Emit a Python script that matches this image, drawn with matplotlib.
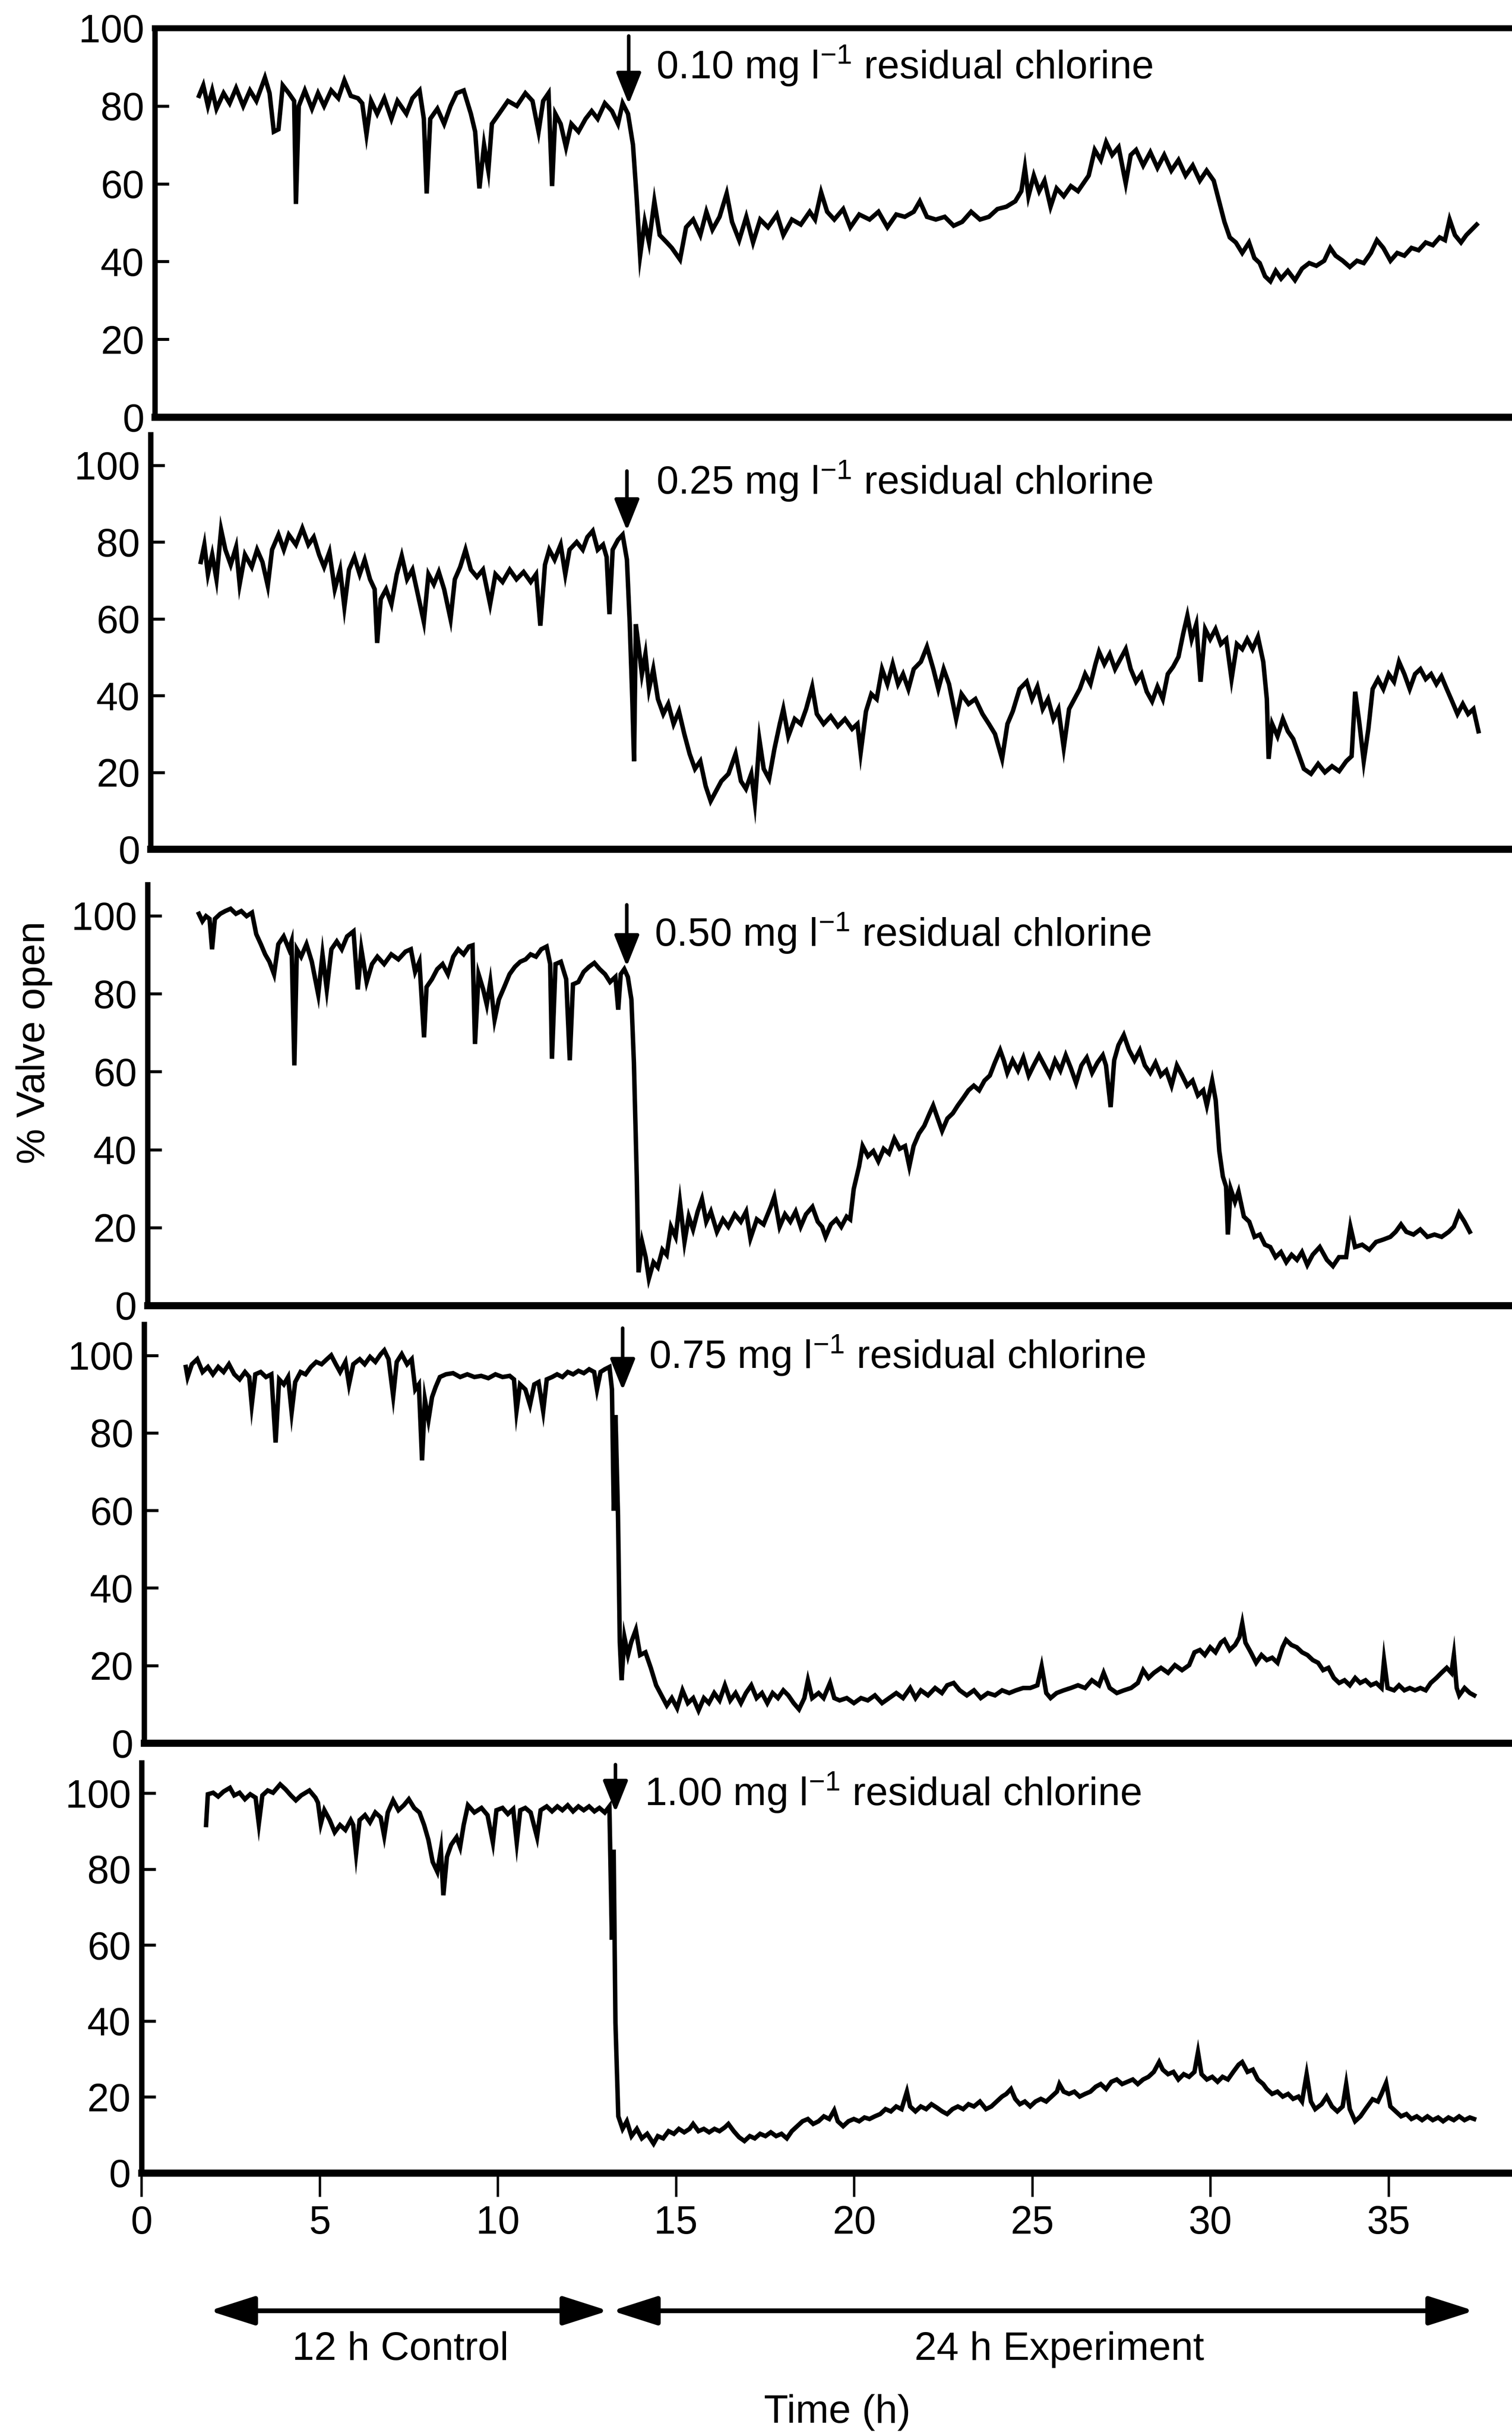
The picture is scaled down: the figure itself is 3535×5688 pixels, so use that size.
import matplotlib.pyplot as plt

plt.rcParams['font.family'] = ['Liberation Sans', 'DejaVu Sans']
plt.rcParams['mathtext.fontset'] = 'custom'
plt.rcParams['mathtext.rm'] = 'Liberation Sans'
plt.rcParams['mathtext.it'] = 'Liberation Sans:italic'

# Data (hours, % valve open)
t1 = [1.24, 1.36, 1.49, 1.61, 1.73, 1.93, 2.10, 2.28, 2.48, 2.67, 2.85, 3.09, 3.22, 3.34, 3.47, 3.59, 3.76, 3.91, 3.96, 4.04,
      4.21, 4.41, 4.58, 4.75, 4.95, 5.15, 5.32, 5.50, 5.70, 5.82, 5.94, 6.07, 6.24, 6.44, 6.64, 6.81, 7.06, 7.23, 7.43, 7.55,
      7.63, 7.73, 7.93, 8.12, 8.30, 8.47, 8.67, 8.87, 8.99, 9.11, 9.24, 9.36, 9.46, 9.66, 9.91, 10.16, 10.40, 10.60, 10.77, 10.90,
      11.05, 11.15, 11.24, 11.39, 11.54, 11.69, 11.89, 12.09, 12.26, 12.43, 12.63, 12.83, 13.00, 13.13, 13.28, 13.42, 13.52, 13.62, 13.75, 13.87,
      14.02, 14.17, 14.37, 14.51, 14.74, 14.91, 15.11, 15.31, 15.48, 15.65, 15.85, 16.05, 16.20, 16.40, 16.60, 16.79, 16.99, 17.21, 17.46, 17.64,
      17.88, 18.13, 18.38, 18.53, 18.70, 18.87, 19.07, 19.32, 19.52, 19.77, 20.06, 20.31, 20.56, 20.81, 21.05, 21.30, 21.47, 21.67, 21.92, 22.17,
      22.42, 22.66, 22.91, 23.16, 23.41, 23.65, 23.90, 24.15, 24.32, 24.42, 24.52, 24.67, 24.82, 24.97, 25.14, 25.31, 25.51, 25.71, 25.91, 26.06,
      26.21, 26.38, 26.55, 26.70, 26.87, 27.05, 27.25, 27.39, 27.54, 27.74, 27.94, 28.14, 28.33, 28.53, 28.73, 28.93, 29.13, 29.33, 29.52, 29.72,
      29.87, 30.02, 30.17, 30.34, 30.52, 30.71, 30.86, 31.01, 31.16, 31.31, 31.46, 31.61, 31.80, 32.00, 32.20, 32.40, 32.60, 32.82, 32.99, 33.14,
      33.34, 33.54, 33.74, 33.93, 34.13, 34.30, 34.48, 34.68, 34.87, 35.07, 35.27, 35.47, 35.67, 35.87, 36.06, 36.21, 36.34, 36.49, 36.66, 36.81,
      36.96, 37.10]
v1 = [82.6, 85.3, 80.0, 84.0, 79.3, 83.3, 80.7, 84.6, 80.0, 84.0, 81.3, 87.3, 83.3, 73.4, 74.0, 85.3, 83.3, 81.3, 54.8, 80.0,
      84.0, 79.3, 83.3, 80.0, 84.0, 82.0, 86.6, 82.6, 82.0, 80.7, 72.7, 81.3, 78.0, 82.0, 76.7, 81.3, 78.0, 82.0, 84.0, 76.7,
      57.5, 76.7, 79.3, 75.4, 80.0, 83.3, 84.0, 78.0, 73.4, 58.8, 70.0, 63.4, 75.4, 78.0, 81.3, 80.0, 83.3, 81.3, 73.4, 81.3,
      83.3, 59.4, 78.0, 75.4, 69.4, 75.4, 73.4, 76.7, 78.7, 76.7, 80.7, 78.7, 75.4, 80.7, 78.0, 70.0, 56.8, 41.5, 50.2, 44.9,
      55.5, 46.8, 44.9, 43.5, 40.5, 48.8, 50.8, 46.8, 52.8, 48.2, 51.5, 57.5, 50.2, 45.5, 51.5, 44.9, 50.8, 48.8, 52.1, 46.8,
      50.8, 49.5, 52.8, 50.8, 57.8, 52.8, 50.8, 53.5, 48.8, 52.1, 50.8, 52.8, 48.8, 52.1, 51.5, 52.8, 55.5, 51.5, 50.8, 51.5,
      49.2, 50.2, 52.8, 50.8, 51.5, 53.5, 54.1, 55.5, 58.1, 64.1, 56.8, 62.1, 58.1, 60.8, 54.1, 58.8, 56.8, 59.4, 58.1, 60.1,
      62.1, 68.7, 66.1, 70.7, 67.4, 69.4, 60.1, 67.4, 68.7, 64.7, 68.1, 64.1, 67.4, 63.4, 66.1, 62.1, 64.7, 60.8, 63.4, 60.8,
      55.5, 50.2, 46.2, 44.9, 42.2, 44.9, 40.9, 39.6, 36.2, 34.9, 37.6, 35.6, 37.6, 35.2, 38.2, 39.6, 38.9, 40.2, 43.5, 41.5,
      40.2, 38.6, 40.2, 39.6, 42.2, 45.5, 43.5, 40.2, 42.2, 41.5, 43.5, 42.9, 44.9, 44.2, 46.2, 45.5, 50.8, 46.8, 44.9, 46.8,
      48.2, 49.5]

t2 = [1.41, 1.51, 1.61, 1.73, 1.85, 1.98, 2.10, 2.25, 2.40, 2.50, 2.65, 2.84, 2.99, 3.14, 3.29, 3.41, 3.59, 3.74, 3.88, 4.08,
      4.26, 4.43, 4.58, 4.73, 4.87, 5.02, 5.17, 5.32, 5.44, 5.57, 5.72, 5.87, 6.01, 6.16, 6.29, 6.36, 6.46, 6.61, 6.76, 6.91,
      7.05, 7.20, 7.35, 7.50, 7.67, 7.80, 7.95, 8.09, 8.24, 8.42, 8.54, 8.69, 8.84, 8.99, 9.16, 9.33, 9.53, 9.68, 9.88, 10.08,
      10.27, 10.47, 10.67, 10.82, 10.94, 11.07, 11.19, 11.34, 11.51, 11.64, 11.76, 11.96, 12.13, 12.26, 12.41, 12.55, 12.70, 12.80, 12.88, 12.97,
      13.12, 13.25, 13.37, 13.45, 13.52, 13.57, 13.62, 13.69, 13.79, 13.89, 13.99, 14.11, 14.24, 14.39, 14.53, 14.68, 14.83, 14.98, 15.13, 15.28,
      15.43, 15.58, 15.72, 15.87, 16.02, 16.22, 16.42, 16.57, 16.71, 16.86, 16.96, 17.09, 17.21, 17.36, 17.51, 17.66, 17.76, 17.90, 18.08, 18.25,
      18.40, 18.57, 18.70, 18.89, 19.09, 19.29, 19.49, 19.69, 19.84, 19.93, 20.08, 20.23, 20.38, 20.53, 20.68, 20.83, 20.98, 21.12, 21.27, 21.42,
      21.62, 21.79, 21.97, 22.11, 22.26, 22.41, 22.61, 22.76, 22.96, 23.15, 23.35, 23.53, 23.70, 23.90, 24.05, 24.20, 24.39, 24.59, 24.74, 24.89,
      25.04, 25.19, 25.34, 25.48, 25.63, 25.78, 25.93, 26.08, 26.23, 26.38, 26.52, 26.62, 26.77, 26.92, 27.07, 27.22, 27.37, 27.51, 27.66, 27.81,
      27.96, 28.11, 28.26, 28.41, 28.55, 28.70, 28.85, 28.98, 29.10, 29.22, 29.35, 29.47, 29.60, 29.74, 29.89, 30.04, 30.19, 30.34, 30.49, 30.64,
      30.78, 30.93, 31.08, 31.23, 31.33, 31.38, 31.48, 31.63, 31.78, 31.92, 32.07, 32.22, 32.37, 32.57, 32.77, 32.96, 33.16, 33.36, 33.56, 33.71,
      33.81, 33.93, 34.05, 34.18, 34.30, 34.45, 34.60, 34.75, 34.90, 35.04, 35.19, 35.34, 35.49, 35.64, 35.79, 35.94, 36.09, 36.23, 36.38, 36.53,
      36.68, 36.83, 36.98, 37.13, 37.27]
v2 = [74.8, 79.3, 71.6, 76.7, 70.3, 83.2, 78.0, 74.1, 78.7, 69.0, 76.7, 73.5, 78.0, 74.8, 68.6, 78.0, 81.9, 78.0, 81.9, 79.3,
      83.6, 79.3, 81.3, 76.7, 73.5, 77.4, 67.7, 72.8, 63.1, 72.8, 76.1, 71.6, 75.4, 70.3, 67.7, 53.7, 65.1, 67.7, 63.8, 71.6,
      76.4, 70.3, 72.8, 66.4, 59.2, 71.6, 69.0, 72.2, 67.7, 59.9, 70.3, 73.5, 78.0, 72.8, 70.9, 72.8, 63.8, 71.6, 69.6, 72.8,
      70.3, 72.2, 69.6, 71.6, 58.2, 74.1, 78.0, 75.4, 79.3, 71.6, 78.0, 80.0, 78.0, 81.3, 82.9, 78.0, 79.3, 76.1, 61.2, 78.0,
      80.6, 81.9, 75.4, 58.6, 39.1, 22.9, 58.6, 53.4, 45.6, 50.8, 41.7, 46.9, 39.1, 35.2, 37.8, 32.6, 35.9, 30.0, 24.8, 20.9,
      22.9, 16.4, 12.5, 15.1, 17.7, 19.6, 24.8, 17.7, 15.7, 19.6, 12.2, 28.4, 20.9, 18.3, 26.1, 32.6, 36.5, 29.4, 33.9, 32.6,
      36.5, 42.3, 35.2, 32.6, 34.6, 32.0, 33.9, 31.3, 32.6, 25.1, 35.9, 40.4, 39.1, 46.9, 43.0, 48.2, 43.0, 45.6, 41.7, 46.9,
      48.8, 52.7, 46.9, 41.7, 46.9, 43.0, 33.9, 40.4, 37.8, 39.1, 35.2, 32.6, 30.0, 23.5, 32.6, 35.9, 41.7, 43.6, 39.1, 42.3,
      36.5, 39.1, 33.9, 36.5, 26.4, 36.5, 39.1, 41.7, 45.6, 43.0, 48.2, 51.4, 48.2, 50.8, 46.9, 49.5, 52.1, 46.9, 43.6, 45.6,
      41.0, 38.5, 42.3, 39.1, 45.6, 47.5, 50.1, 56.0, 60.8, 54.7, 58.6, 43.6, 57.3, 54.7, 57.3, 53.4, 54.7, 44.3, 53.4, 52.1,
      54.7, 52.1, 55.3, 48.8, 39.1, 23.5, 32.6, 29.4, 33.9, 30.7, 28.7, 24.8, 20.9, 19.6, 22.2, 20.0, 21.6, 20.3, 22.9, 24.2,
      41.0, 32.6, 22.9, 31.3, 41.7, 44.3, 41.7, 45.6, 43.6, 48.8, 45.6, 41.7, 45.6, 46.9, 44.3, 45.6, 43.0, 45.0, 41.7, 38.5,
      35.2, 37.8, 35.2, 36.5, 30.7]

t3 = [1.44, 1.54, 1.64, 1.74, 1.81, 1.89, 2.04, 2.18, 2.33, 2.48, 2.63, 2.78, 2.93, 3.05, 3.18, 3.30, 3.42, 3.55, 3.67, 3.82,
      3.97, 4.04, 4.12, 4.19, 4.31, 4.46, 4.61, 4.79, 4.91, 5.03, 5.16, 5.31, 5.45, 5.60, 5.78, 5.90, 6.00, 6.15, 6.30, 6.45,
      6.64, 6.84, 7.04, 7.24, 7.39, 7.51, 7.63, 7.76, 7.83, 7.98, 8.13, 8.28, 8.43, 8.58, 8.72, 8.87, 9.02, 9.12, 9.19, 9.29,
      9.42, 9.52, 9.62, 9.74, 9.86, 10.01, 10.16, 10.31, 10.46, 10.61, 10.75, 10.90, 11.05, 11.20, 11.30, 11.35, 11.45, 11.60, 11.75, 11.85,
      11.94, 12.09, 12.24, 12.39, 12.54, 12.69, 12.84, 12.98, 13.13, 13.21, 13.28, 13.38, 13.48, 13.58, 13.65, 13.73, 13.78, 13.88, 13.98, 14.07,
      14.20, 14.32, 14.45, 14.57, 14.69, 14.82, 14.94, 15.07, 15.19, 15.31, 15.44, 15.56, 15.68, 15.81, 15.98, 16.15, 16.30, 16.48, 16.65, 16.80,
      16.92, 17.10, 17.29, 17.49, 17.59, 17.74, 17.89, 18.04, 18.19, 18.33, 18.48, 18.66, 18.81, 18.93, 19.03, 19.18, 19.33, 19.47, 19.62, 19.72,
      19.82, 19.97, 20.07, 20.22, 20.37, 20.51, 20.66, 20.81, 20.96, 21.11, 21.26, 21.38, 21.50, 21.65, 21.80, 21.95, 22.05, 22.20, 22.30, 22.45,
      22.60, 22.74, 22.89, 23.04, 23.19, 23.34, 23.49, 23.64, 23.78, 23.93, 24.03, 24.13, 24.28, 24.43, 24.58, 24.73, 24.87, 25.02, 25.17, 25.32,
      25.47, 25.62, 25.77, 25.91, 26.06, 26.21, 26.36, 26.51, 26.66, 26.81, 26.90, 27.03, 27.13, 27.25, 27.40, 27.55, 27.70, 27.85, 27.99, 28.14,
      28.29, 28.44, 28.59, 28.74, 28.89, 29.04, 29.18, 29.33, 29.48, 29.63, 29.73, 29.88, 29.98, 30.08, 30.18, 30.27, 30.32, 30.40, 30.52, 30.62,
      30.77, 30.92, 31.07, 31.22, 31.36, 31.51, 31.66, 31.81, 31.96, 32.11, 32.26, 32.40, 32.55, 32.70, 32.90, 33.10, 33.27, 33.44, 33.64, 33.76,
      33.89, 34.09, 34.29, 34.48, 34.68, 34.88, 35.03, 35.18, 35.33, 35.53, 35.72, 35.92, 36.12, 36.32, 36.52, 36.66, 36.81, 36.96, 37.11]
v3 = [100.5, 98.6, 99.9, 99.2, 91.4, 99.2, 100.5, 101.2, 101.8, 100.5, 101.2, 99.9, 100.8, 95.3, 92.7, 90.1, 88.2, 85.0, 92.7, 94.7,
      91.4, 93.4, 61.6, 91.4, 89.5, 92.7, 88.2, 79.8, 90.1, 81.1, 91.4, 93.4, 91.4, 94.7, 96.0, 81.1, 91.4, 83.0, 87.6, 89.5,
      87.6, 90.1, 88.8, 90.8, 91.4, 85.6, 88.2, 68.8, 81.7, 83.7, 86.3, 87.6, 85.0, 89.5, 91.4, 90.1, 92.1, 92.4, 67.1, 85.0,
      81.1, 77.2, 83.0, 73.3, 78.5, 81.7, 85.0, 86.9, 88.2, 88.8, 90.1, 89.5, 91.4, 92.1, 87.6, 63.3, 87.6, 88.2, 83.7, 62.9,
      82.4, 83.0, 85.6, 86.9, 87.9, 86.3, 85.0, 83.0, 84.3, 75.9, 85.0, 86.3, 84.3, 78.5, 62.3, 33.1, 8.5, 16.3, 12.4, 6.9,
      11.1, 9.8, 14.3, 13.0, 20.2, 17.6, 26.6, 16.3, 22.8, 19.5, 24.1, 27.3, 21.5, 24.1, 18.9, 22.1, 20.2, 23.4, 21.5, 24.1,
      17.2, 22.1, 20.8, 25.3, 27.9, 20.2, 23.4, 21.5, 24.1, 20.2, 23.4, 25.3, 21.5, 20.2, 17.6, 20.8, 22.1, 20.2, 22.8, 22.1,
      29.9, 35.7, 40.9, 38.3, 39.6, 37.0, 40.2, 39.0, 42.8, 40.2, 40.9, 35.7, 40.9, 44.1, 46.1, 49.3, 51.3, 47.4, 44.8, 48.0,
      49.3, 51.3, 53.2, 55.2, 56.4, 55.2, 57.7, 59.0, 62.3, 65.5, 62.9, 59.7, 62.9, 60.3, 63.6, 59.0, 61.6, 64.2, 61.6, 59.0,
      62.9, 60.3, 64.2, 61.0, 57.1, 61.6, 63.6, 59.7, 62.3, 64.2, 61.6, 50.9, 62.9, 66.8, 69.4, 65.5, 62.9, 65.5, 61.6, 59.7,
      62.3, 59.0, 60.3, 56.4, 61.6, 59.0, 56.4, 57.7, 53.9, 55.2, 51.3, 57.7, 52.6, 39.6, 33.1, 30.5, 18.2, 29.9, 26.6, 29.2,
      22.8, 21.5, 17.6, 18.2, 15.6, 15.0, 12.4, 13.7, 11.1, 13.0, 11.7, 13.7, 10.4, 13.0, 15.0, 11.7, 10.1, 12.4, 12.4, 20.2,
      15.0, 15.6, 14.3, 16.3, 16.9, 17.6, 18.9, 20.8, 18.9, 18.2, 19.5, 17.6, 18.2, 17.6, 18.9, 20.2, 23.7, 21.5, 18.9]

t4 = [1.17, 1.22, 1.34, 1.49, 1.64, 1.79, 1.93, 2.08, 2.23, 2.38, 2.53, 2.68, 2.83, 2.95, 3.02, 3.12, 3.27, 3.42, 3.57, 3.69,
      3.79, 3.92, 4.04, 4.14, 4.24, 4.39, 4.53, 4.68, 4.83, 4.98, 5.13, 5.25, 5.38, 5.50, 5.65, 5.75, 5.87, 6.05, 6.19, 6.34,
      6.49, 6.64, 6.74, 6.86, 6.99, 7.09, 7.23, 7.38, 7.51, 7.61, 7.71, 7.80, 7.88, 7.98, 8.08, 8.18, 8.30, 8.47, 8.67, 8.87,
      9.07, 9.27, 9.46, 9.66, 9.86, 10.06, 10.26, 10.38, 10.45, 10.55, 10.70, 10.83, 10.95, 11.07, 11.20, 11.30, 11.45, 11.59, 11.74, 11.89,
      12.04, 12.19, 12.34, 12.49, 12.63, 12.71, 12.81, 12.93, 13.06, 13.13, 13.18, 13.23, 13.30, 13.35, 13.40, 13.48, 13.58, 13.67, 13.80, 13.92,
      14.07, 14.22, 14.37, 14.52, 14.67, 14.81, 14.96, 15.11, 15.26, 15.41, 15.56, 15.71, 15.85, 16.00, 16.15, 16.30, 16.45, 16.60, 16.75, 16.89,
      17.04, 17.19, 17.34, 17.49, 17.64, 17.79, 17.94, 18.08, 18.23, 18.38, 18.53, 18.63, 18.75, 18.93, 19.07, 19.25, 19.37, 19.52, 19.72, 19.92,
      20.12, 20.31, 20.51, 20.71, 20.91, 21.11, 21.30, 21.50, 21.65, 21.80, 22.00, 22.20, 22.39, 22.54, 22.72, 22.89, 23.09, 23.29, 23.48, 23.68,
      23.88, 24.08, 24.28, 24.47, 24.67, 24.87, 25.07, 25.19, 25.32, 25.44, 25.61, 25.81, 26.01, 26.21, 26.41, 26.60, 26.80, 26.93, 27.10, 27.30,
      27.50, 27.70, 27.89, 28.04, 28.19, 28.34, 28.54, 28.74, 28.93, 29.13, 29.33, 29.48, 29.63, 29.77, 29.92, 30.07, 30.22, 30.32, 30.47, 30.62,
      30.74, 30.82, 30.91, 31.06, 31.21, 31.36, 31.51, 31.66, 31.81, 31.95, 32.05, 32.20, 32.35, 32.50, 32.65, 32.80, 32.95, 33.09, 33.24, 33.39,
      33.54, 33.69, 33.84, 33.99, 34.13, 34.28, 34.43, 34.58, 34.73, 34.80, 34.90, 35.08, 35.22, 35.37, 35.52, 35.67, 35.82, 35.97, 36.11, 36.27,
      36.41, 36.56, 36.69, 36.76, 36.84, 36.91, 37.06, 37.21, 37.33]
v4 = [97.0, 94.4, 97.7, 99.0, 95.7, 97.0, 95.1, 97.0, 95.7, 97.7, 95.1, 93.8, 95.7, 94.4, 87.2, 95.1, 95.7, 94.4, 95.1, 77.5,
      93.8, 92.5, 94.4, 85.3, 93.1, 95.7, 95.1, 97.0, 98.3, 97.7, 99.0, 100.0, 97.7, 95.7, 98.3, 92.5, 97.7, 99.0, 97.7, 99.6,
      98.3, 100.3, 101.3, 99.0, 89.5, 98.3, 100.3, 97.7, 99.0, 91.2, 92.5, 72.9, 88.6, 83.3, 89.2, 91.8, 94.4, 95.1, 95.4, 94.4,
      95.1, 94.4, 94.7, 94.1, 95.1, 94.4, 94.7, 93.8, 85.6, 92.5, 91.2, 87.2, 92.5, 93.1, 85.6, 93.8, 94.4, 95.1, 94.4, 95.7,
      95.1, 96.0, 95.4, 96.4, 95.7, 91.2, 95.7, 96.4, 97.0, 91.2, 59.9, 84.6, 58.6, 26.0, 16.2, 27.3, 22.7, 26.0, 29.2, 22.7,
      23.4, 19.4, 14.9, 12.3, 9.7, 11.6, 9.0, 13.6, 10.3, 11.6, 8.4, 11.6, 10.3, 12.9, 11.0, 14.9, 11.0, 12.9, 10.3, 12.9,
      14.9, 11.6, 12.9, 10.3, 12.9, 11.6, 13.6, 12.3, 10.3, 8.7, 11.6, 16.2, 11.6, 12.9, 11.6, 15.5, 11.6, 11.0, 11.6, 10.3,
      11.6, 11.0, 12.3, 10.3, 11.6, 12.9, 11.6, 14.2, 11.6, 13.6, 12.3, 14.2, 12.9, 14.9, 15.5, 13.6, 12.3, 13.6, 11.6, 12.9,
      12.3, 13.6, 12.9, 13.6, 14.2, 14.2, 14.9, 19.8, 12.9, 11.6, 12.9, 13.6, 14.2, 14.9, 14.2, 16.2, 14.9, 18.1, 14.2, 12.9,
      13.6, 14.2, 15.5, 18.8, 16.8, 18.1, 19.4, 18.1, 20.1, 18.8, 20.1, 23.4, 24.0, 22.7, 24.7, 23.4, 25.9, 26.6, 24.0, 25.3,
      27.3, 30.9, 25.9, 23.4, 20.7, 22.7, 21.4, 22.0, 20.7, 24.7, 26.6, 25.3, 24.7, 23.4, 22.7, 21.4, 20.7, 18.8, 19.4, 16.8,
      15.5, 16.2, 14.9, 16.8, 15.5, 16.2, 14.9, 15.5, 14.2, 21.4, 14.2, 13.6, 14.9, 13.6, 14.2, 13.6, 14.2, 13.6, 15.5, 16.8,
      18.1, 19.4, 18.1, 22.7, 14.2, 12.3, 14.2, 12.9, 12.3]

t5 = [1.81, 1.86, 2.01, 2.15, 2.30, 2.48, 2.60, 2.75, 2.90, 3.05, 3.20, 3.29, 3.39, 3.54, 3.69, 3.89, 4.04, 4.19, 4.33, 4.48,
      4.71, 4.88, 4.95, 5.03, 5.13, 5.28, 5.42, 5.57, 5.72, 5.87, 5.94, 6.02, 6.12, 6.27, 6.41, 6.56, 6.71, 6.81, 6.91, 7.06,
      7.21, 7.36, 7.50, 7.65, 7.80, 7.93, 8.05, 8.17, 8.30, 8.40, 8.47, 8.57, 8.69, 8.84, 8.94, 9.04, 9.16, 9.34, 9.54, 9.71,
      9.86, 9.96, 10.13, 10.28, 10.43, 10.53, 10.63, 10.77, 10.92, 11.10, 11.20, 11.37, 11.52, 11.67, 11.81, 11.96, 12.11, 12.26, 12.41, 12.56,
      12.71, 12.85, 13.00, 13.13, 13.20, 13.25, 13.30, 13.38, 13.50, 13.62, 13.75, 13.90, 14.04, 14.19, 14.37, 14.49, 14.64, 14.79, 14.94, 15.08,
      15.23, 15.38, 15.48, 15.63, 15.78, 15.93, 16.08, 16.22, 16.37, 16.47, 16.62, 16.77, 16.92, 17.07, 17.21, 17.36, 17.51, 17.66, 17.81, 17.96,
      18.11, 18.25, 18.40, 18.55, 18.70, 18.85, 19.00, 19.15, 19.30, 19.44, 19.54, 19.69, 19.84, 19.99, 20.14, 20.29, 20.43, 20.58, 20.73, 20.88,
      21.03, 21.18, 21.33, 21.48, 21.57, 21.72, 21.87, 22.02, 22.17, 22.32, 22.47, 22.61, 22.76, 22.91, 23.06, 23.21, 23.36, 23.53, 23.70, 23.85,
      24.00, 24.15, 24.27, 24.40, 24.52, 24.65, 24.79, 24.94, 25.09, 25.24, 25.39, 25.54, 25.69, 25.76, 25.88, 26.03, 26.18, 26.33, 26.48, 26.63,
      26.78, 26.92, 27.07, 27.22, 27.37, 27.52, 27.67, 27.82, 27.96, 28.11, 28.26, 28.41, 28.56, 28.66, 28.81, 28.96, 29.10, 29.25, 29.40, 29.55,
      29.65, 29.75, 29.90, 30.05, 30.20, 30.34, 30.49, 30.64, 30.79, 30.89, 31.04, 31.19, 31.33, 31.48, 31.58, 31.73, 31.88, 32.03, 32.18, 32.32,
      32.47, 32.57, 32.70, 32.82, 32.94, 33.12, 33.26, 33.41, 33.56, 33.71, 33.81, 33.91, 34.06, 34.21, 34.35, 34.55, 34.70, 34.80, 34.93, 35.05,
      35.20, 35.35, 35.50, 35.64, 35.79, 35.94, 36.09, 36.24, 36.39, 36.53, 36.68, 36.83, 36.98, 37.13, 37.28, 37.40]
v5 = [91.6, 99.7, 100.1, 99.1, 100.4, 101.4, 99.4, 100.1, 98.4, 99.7, 98.8, 91.9, 99.4, 100.7, 100.1, 102.3, 101.0, 99.4, 98.1, 99.4,
      100.7, 98.8, 97.5, 91.9, 95.5, 92.9, 89.7, 91.6, 90.3, 92.9, 91.6, 84.1, 92.9, 94.2, 92.3, 94.9, 93.6, 88.7, 94.9, 98.1,
      95.5, 96.8, 98.4, 96.1, 94.9, 91.6, 87.7, 81.9, 79.3, 85.1, 73.1, 83.2, 86.4, 88.4, 85.8, 91.6, 96.8, 94.9, 96.1, 94.2,
      87.0, 95.5, 96.1, 94.5, 95.8, 87.0, 95.5, 96.1, 94.9, 88.4, 95.5, 96.5, 95.2, 96.5, 95.5, 96.8, 95.2, 96.5, 95.5, 96.5,
      95.2, 96.1, 94.9, 96.5, 61.4, 85.1, 39.6, 14.9, 11.6, 13.6, 9.7, 11.6, 9.1, 10.3, 7.7, 9.7, 9.1, 11.0, 10.3, 11.6,
      10.7, 11.6, 12.9, 11.0, 11.6, 10.7, 11.6, 11.0, 12.0, 12.9, 11.0, 9.4, 8.4, 9.7, 9.1, 10.3, 9.7, 10.7, 9.7, 10.3,
      9.1, 11.0, 12.3, 13.6, 14.2, 12.9, 13.6, 14.9, 14.2, 16.5, 13.6, 12.3, 13.6, 14.2, 13.6, 14.6, 14.2, 14.9, 15.5, 16.8,
      16.2, 17.5, 16.8, 21.4, 17.5, 16.2, 17.5, 16.8, 18.1, 17.2, 16.2, 15.5, 16.8, 17.5, 16.8, 18.1, 17.5, 18.8, 16.8, 17.5,
      18.8, 20.1, 20.8, 22.1, 19.5, 18.1, 18.8, 17.5, 18.8, 19.5, 18.8, 20.1, 21.4, 23.4, 21.4, 20.8, 21.4, 20.1, 20.8, 21.4,
      22.7, 23.4, 22.1, 24.0, 24.6, 23.4, 24.0, 24.6, 23.4, 24.6, 25.3, 26.6, 29.2, 27.2, 26.0, 26.6, 24.6, 26.0, 25.3, 26.6,
      31.8, 26.0, 24.6, 25.3, 24.0, 25.3, 24.6, 26.6, 28.5, 29.2, 26.6, 27.2, 24.6, 23.4, 22.1, 20.8, 21.4, 20.1, 20.8, 19.5,
      20.1, 18.8, 26.0, 18.8, 16.8, 18.1, 20.1, 17.5, 16.2, 17.5, 23.4, 16.8, 13.6, 14.9, 16.8, 19.4, 18.8, 20.8, 23.7, 17.5,
      16.2, 14.9, 15.5, 14.2, 14.9, 13.9, 14.9, 13.9, 14.6, 13.6, 14.6, 13.9, 14.9, 13.9, 14.6, 14.2]

doses = ['0.10', '0.25', '0.50', '0.75', '1.00']
y_ticks = [0, 20, 40, 60, 80, 100]
x_ticks = [0, 5, 10, 15, 20, 25, 30, 35]

times = [t1, t2, t3, t4, t5]
values = [v1, v2, v3, v4, v5]

W, H = 3535, 5688
fig = plt.figure(figsize=(W / 100, H / 100), dpi=100)

# panel geometry in pixels: left spine x, y of zero line, y of top, y-limit top
panels = [(362, 975, 66, 100), (352, 1985, 1016, 108), (345, 3052, 2068, 108),
          (337, 4075, 3096, 108), (331, 5080, 4121, 108)]
# chlorine arrow (x, top, tip) and label (x, baseline) per panel
marks = [(13.3, 98, 80.5, 14.07, 87.0), (13.37, 98.5, 83, 14.19, 92.5), (13.45, 102.8, 87, 14.22, 92.2),
         (13.43, 107, 91, 14.17, 96.7), (13.3, 107.5, 95, 14.12, 96.8)]

px_per_h = 83.3
axes = []
for i in range(5):
    left, zero, top, ytop = panels[i]
    ax = fig.add_axes([left / W, 1 - zero / H, (W - left) / W, (zero - top) / H])
    ax.plot(times[i], values[i], color='black', lw=7.5, solid_joinstyle='miter')
    ax.set_xlim(0, (W - left) / px_per_h)
    ax.set_ylim(0, ytop)
    ax.set_yticks(y_ticks)
    ax.tick_params(axis='y', direction='in', length=24, width=5, pad=18, labelsize=66)
    ax.spines['right'].set_visible(False)
    ax.spines['top'].set_visible(i == 0)
    ax.spines['top'].set_linewidth(10)
    ax.spines['left'].set_linewidth(9)
    ax.spines['bottom'].set_linewidth(12)
    if i < 4:
        ax.tick_params(axis='x', bottom=False, labelbottom=False)
    else:
        ax.set_xticks(x_ticks)
        ax.tick_params(axis='x', direction='out', length=40, width=4, pad=14, labelsize=66)

    ax_x, a_top, a_tip, tx, ty = marks[i]
    ax.annotate('', xy=(ax_x, a_tip), xytext=(ax_x, a_top),
                arrowprops=dict(arrowstyle='-|>,head_length=1.0,head_width=0.4', mutation_scale=45,
                                lw=6, color='black', shrinkA=0, shrinkB=0))
    ax.text(tx, ty, doses[i] + ' mg l$^{-1}$ residual chlorine', fontsize=67, va='baseline', ha='left')
    axes.append(ax)

ax5 = axes[4]
trans = ax5.get_xaxis_transform()
arrow_y = -0.336
ax5.annotate('', xy=(13.1, arrow_y), xytext=(1.9, arrow_y), xycoords=trans, textcoords=trans,
             annotation_clip=False,
             arrowprops=dict(arrowstyle='<|-|>,head_length=1.0,head_width=0.32', mutation_scale=65,
                             lw=8, color='black', shrinkA=0, shrinkB=0))
ax5.annotate('', xy=(37.4, arrow_y), xytext=(13.2, arrow_y), xycoords=trans, textcoords=trans,
             annotation_clip=False,
             arrowprops=dict(arrowstyle='<|-|>,head_length=1.0,head_width=0.32', mutation_scale=65,
                             lw=8, color='black', shrinkA=0, shrinkB=0))
ax5.text(7.26, -0.431, '12 h Control', transform=trans, fontsize=67, ha='center', va='center', clip_on=False)
ax5.text(25.76, -0.431, '24 h Experiment', transform=trans, fontsize=67, ha='center', va='center', clip_on=False)
ax5.text(19.53, -0.584, 'Time (h)', transform=trans, fontsize=67, ha='center', va='center', clip_on=False)

fig.text(80 / W, 1 - 2437 / H, '% Valve open', rotation=90, fontsize=67, ha='center', va='center')

fig.savefig('out.png', dpi=100)
